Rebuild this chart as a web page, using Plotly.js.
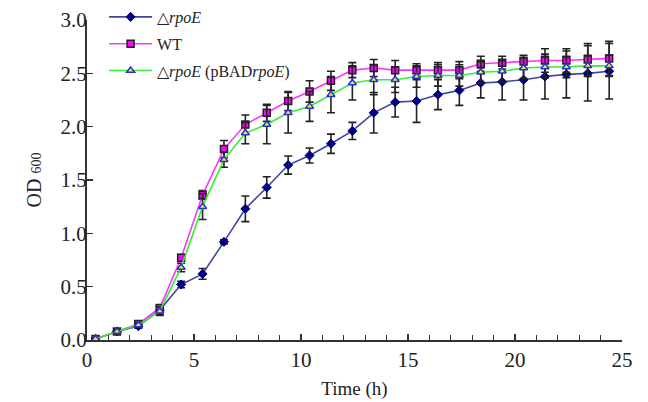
<!DOCTYPE html>
<html>
<head>
<meta charset="utf-8">
<script src="https://cdn.plot.ly/plotly-3.0.1.min.js"></script>
<style>html,body{margin:0;padding:0;background:#fff;}#chart{width:648px;height:402px;}</style>
</head>
<body>
<div id="chart"></div>
<script>
const seriesNames = ["\u25B3<i>rpoE</i>", "WT", "\u25B3<i>rpoE</i> (pBAD<i>rpoE</i>)"];
const timeH = [0.4,1.4,2.4,3.4,4.4,5.4,6.4,7.4,8.4,9.4,10.4,11.4,12.4,13.4,14.4,15.4,16.4,17.4,18.4,19.4,20.4,21.4,22.4,23.4,24.4];
const odMutant = [0.01,0.08,0.13,0.28,0.52,0.62,0.92,1.23,1.43,1.64,1.73,1.84,1.96,2.13,2.23,2.24,2.30,2.34,2.41,2.42,2.44,2.47,2.49,2.50,2.52];
const errMutant = [0.01,0.02,0.02,0.04,0.03,0.05,0.02,0.12,0.10,0.085,0.07,0.09,0.08,0.19,0.14,0.20,0.14,0.14,0.14,0.17,0.19,0.21,0.22,0.26,0.26];
const odWT = [0.01,0.08,0.15,0.30,0.77,1.36,1.79,2.02,2.13,2.24,2.33,2.43,2.53,2.55,2.53,2.53,2.53,2.53,2.59,2.60,2.61,2.62,2.62,2.63,2.64];
const errWT = [0.01,0.02,0.02,0.03,0.03,0.04,0.08,0.09,0.08,0.09,0.10,0.09,0.07,0.08,0.09,0.06,0.07,0.08,0.07,0.06,0.06,0.11,0.11,0.15,0.16];
const odComp = [0.01,0.08,0.14,0.27,0.68,1.25,1.69,1.94,2.02,2.13,2.19,2.30,2.41,2.44,2.44,2.47,2.48,2.48,2.51,2.52,2.55,2.56,2.56,2.57,2.57];
const errComp = [0.01,0.02,0.02,0.04,0.04,0.12,0.07,0.10,0.18,0.19,0.14,0.17,0.16,0.14,0.12,0.10,0.10,0.10,0.10,0.10,0.10,0.10,0.10,0.10,0.10];

const errStyle = (arr) => ({type:'data', array:arr, visible:true, color:'#222', thickness:1.6, width:4});

const traces = [
  {x: timeH, y: odMutant, name: seriesNames[0], legendgroup:'a', type:'scatter', mode:'lines+markers',
   line:{color:'#4444a0', width:1.6},
   marker:{symbol:'diamond', size:7, color:'#000080', line:{color:'#000080', width:1}},
   error_y: errStyle(errMutant)},
  {x: timeH, y: odWT, name: seriesNames[1], legendgroup:'b', type:'scatter', mode:'lines+markers',
   line:{color:'#ff33ff', width:1.6},
   marker:{symbol:'square', size:7, color:'#ff00ff', line:{color:'#222', width:1.5}},
   error_y: errStyle(errWT)},
  {x: timeH, y: odComp, name: seriesNames[2], legendgroup:'c', type:'scatter', mode:'lines+markers',
   line:{color:'#33ee33', width:1.6},
   marker:{symbol:'triangle-up', size:7, color:'#ffee00', line:{color:'#2233dd', width:1.5}},
   error_y: errStyle(errComp)}
];

const fontFam = '"Liberation Serif", "Times New Roman", serif';
const layout = {
  width:648, height:402,
  margin:{l:87, r:26, t:20, b:62, autoexpand:false},
  paper_bgcolor:'#fff', plot_bgcolor:'#fff',
  font:{family:fontFam, color:'#222', size:21},
  showlegend:true,
  legend:{x:0.032, y:1.0, yref:'container', xanchor:'left', yanchor:'top', bgcolor:'rgba(0,0,0,0)',
          font:{family:fontFam, size:16, color:'#222'}, tracegroupgap:3, traceorder:'grouped', itemwidth:43},
  xaxis:{range:[0,25], tickvals:[0,5,10,15,20,25], ticks:'inside', ticklen:6, tickwidth:1.5, tickcolor:'#333',
         showline:true, linecolor:'#333', linewidth:2, showgrid:false, zeroline:false,
         minor:{dtick:1, ticks:'inside', ticklen:5, tickwidth:1.2, tickcolor:'#333', showgrid:false},
         tickfont:{family:fontFam, size:21, color:'#222'},
         title:{text:'Time (h)', font:{family:fontFam, size:19, color:'#222'}, standoff:10}},
  yaxis:{range:[0,3], tickvals:[0,0.5,1,1.5,2,2.5,3], ticktext:['0.0','0.5','1.0','1.5','2.0','2.5','3.0'],
         ticks:'inside', ticklen:6, tickwidth:1.5, tickcolor:'#333', ticklabelstandoff:-6,
         showline:true, linecolor:'#333', linewidth:2, showgrid:false, zeroline:false,
         tickfont:{family:fontFam, size:21, color:'#222'},
         title:{text:'OD <span style="font-size:14px">600</span>', font:{family:fontFam, size:20, color:'#222'}, standoff:14}}
};

Plotly.newPlot('chart', traces, layout, {staticPlot:true, displayModeBar:false});
</script>
</body>
</html>
